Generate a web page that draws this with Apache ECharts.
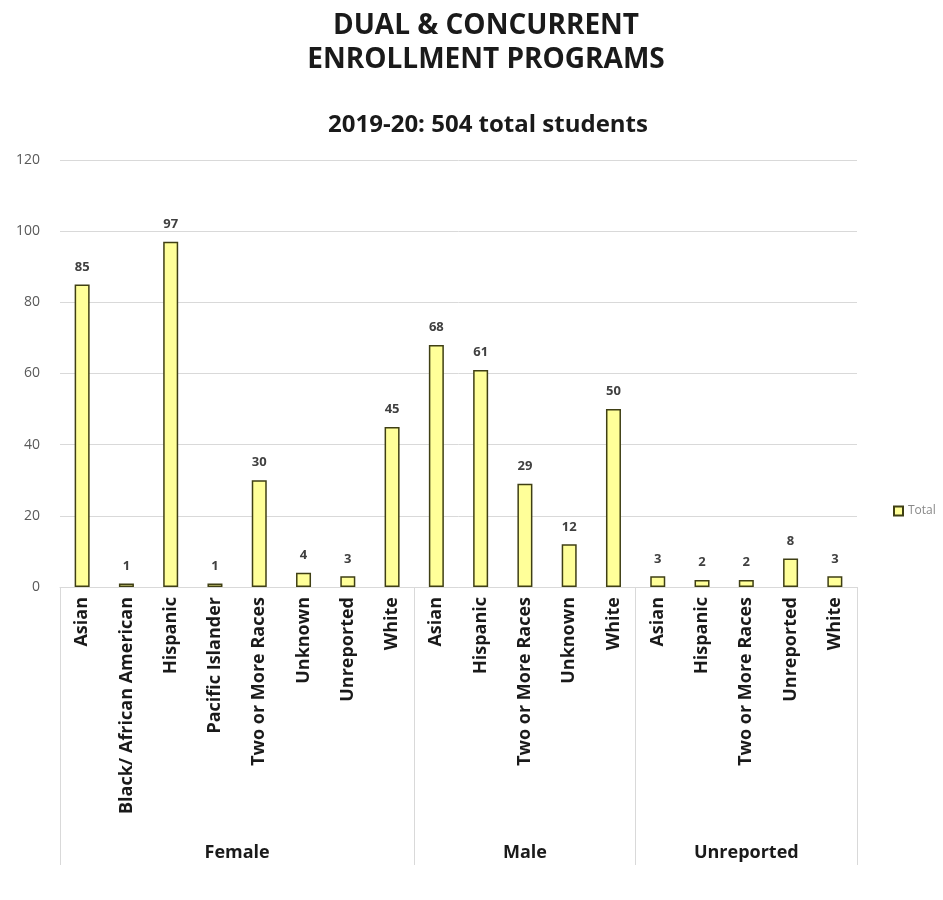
<!DOCTYPE html>
<html>
<head>
<meta charset="utf-8">
<script src="https://cdn.jsdelivr.net/npm/echarts@6/dist/echarts.min.js"></script>
<style>
  html, body { margin: 0; padding: 0; background: #fff; }
  #content { width: 943px; height: 900px; }
</style>
</head>
<body>
<div id="content"></div>
<script>
// 数据
var groupNames = ['Female', 'Male', 'Unreported'];
var groupCats = [
    ['Asian', 'Black/ African American', 'Hispanic', 'Pacific Islander', 'Two or More Races', 'Unknown', 'Unreported', 'White'],
    ['Asian', 'Hispanic', 'Two or More Races', 'Unknown', 'White'],
    ['Asian', 'Hispanic', 'Two or More Races', 'Unreported', 'White']
];
var groupValues = [
    [85, 1, 97, 1, 30, 4, 3, 45],
    [68, 61, 29, 12, 50],
    [3, 2, 2, 8, 3]
];
var yTicks = [0, 20, 40, 60, 80, 100, 120];

// 展开成18个类目
var categories = [];
var totals = [];
for (var g = 0; g < groupCats.length; g++) {
    for (var k = 0; k < groupCats[g].length; k++) {
        categories.push(groupCats[g][k]);
        totals.push(groupValues[g][k]);
    }
}

// 第二条轴：半格刻度，用来放分组名称和分隔线
var halfSlots = [];
var sepIdx = {};
var centerIdx = {};
var pos = 0;
sepIdx[0] = true;
for (var g = 0; g < groupCats.length; g++) {
    centerIdx[pos + groupCats[g].length] = groupNames[g];
    pos += groupCats[g].length * 2;
    sepIdx[pos] = true;
}
for (var i = 0; i <= categories.length * 2; i++) {
    halfSlots.push('s' + i);
}

var font = 'Open Sans';
var myChart = echarts.init(document.getElementById('content'));
var option = {
    animation: false,
    title: [{
        text: 'DUAL & CONCURRENT\nENROLLMENT PROGRAMS',
        left: 481, top: 4, textAlign: 'center',
        textStyle: { fontFamily: font, fontWeight: 'bold', fontSize: 28, lineHeight: 34, color: '#1a1a1a' }
    }, {
        text: '2019-20: 504 total students',
        left: 483, top: 108, textAlign: 'center',
        textStyle: { fontFamily: font, fontWeight: 'bold', fontSize: 24, color: '#1a1a1a' }
    }],
    legend: {
        data: ['Total'],
        left: 888, top: 500,
        icon: 'rect', itemWidth: 9, itemHeight: 9, itemGap: 3,
        textStyle: { fontFamily: font, fontSize: 12, color: '#888' }
    },
    grid: { left: 60, right: 86, top: 160, bottom: 313 },
    xAxis: [{
        type: 'category',
        data: categories,
        axisLine: { show: true, lineStyle: { color: '#d9d9d9', width: 1 } },
        axisTick: { show: false },
        axisLabel: {
            rotate: 90, interval: 0, margin: 10,
            fontFamily: font, fontWeight: 'bold', fontSize: 18, color: '#1a1a1a'
        }
    }, {
        type: 'category',
        position: 'bottom',
        boundaryGap: false,
        data: halfSlots,
        axisLine: { show: false },
        axisTick: {
            show: true, length: 278,
            interval: function (idx) { return !!sepIdx[idx]; },
            lineStyle: { color: '#d9d9d9', width: 1 }
        },
        axisLabel: {
            interval: function (idx) { return !!centerIdx[idx]; },
            formatter: function (v, idx) { return centerIdx[idx] || ''; },
            margin: 257,
            fontFamily: font, fontWeight: 'bold', fontSize: 18, color: '#1a1a1a'
        }
    }],
    yAxis: {
        type: 'value',
        min: yTicks[0], max: yTicks[yTicks.length - 1], interval: 20,
        axisLine: { show: false },
        axisTick: { show: false },
        splitLine: { lineStyle: { color: '#d9d9d9', width: 1 } },
        axisLabel: { margin: 20, fontFamily: font, fontSize: 14, color: '#595959' }
    },
    series: [{
        name: 'Total',
        type: 'bar',
        xAxisIndex: 0,
        data: totals,
        barWidth: 15,
        itemStyle: { color: '#FFFF99', borderColor: '#3f3f14', borderWidth: 1.5 },
        label: {
            show: true, position: 'top', distance: 11,
            fontFamily: font, fontWeight: 'bold', fontSize: 13, color: '#404040'
        }
    }]
};
myChart.setOption(option);
</script>
</body>
</html>
